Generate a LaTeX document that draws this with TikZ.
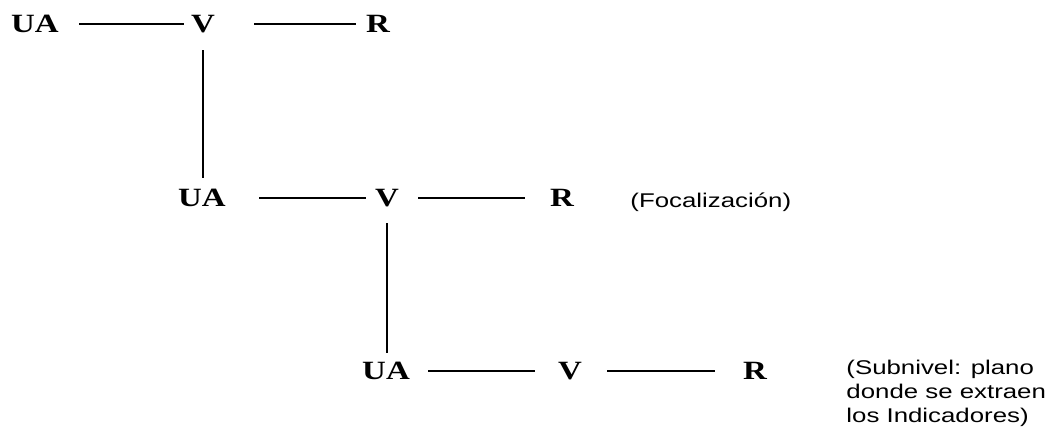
\documentclass[tikz,border=0pt]{standalone}
\usepackage{fontspec}
\setmainfont{Liberation Serif}
\newfontfamily\notefont{Liberation Sans}
\usetikzlibrary{positioning}

\begin{document}
\begin{tikzpicture}[
    lvl/.style={inner sep=0pt, font=\fontsize{15}{17}\selectfont\bfseries, xscale=1.25},
    note/.style={inner sep=0pt, font=\fontsize{11.3}{13.4}\notefont, align=left, xscale=1.3},
    link/.style={line width=1.5pt}
  ]
  \useasboundingbox (0,0) rectangle (21.02,8.54);

  % Level 1
  \node[lvl] (ua1) at (0.70, 8.06) {UA};
  \node[lvl] (v1) at (4.06, 8.06) {V};
  \node[lvl] (r1) at (7.56, 8.06) {R};
  \draw[link, shorten <=0.40cm, shorten >=0.14cm] (ua1) -- (v1);
  \draw[link, shorten <=0.78cm, shorten >=0.20cm] (v1) -- (r1);

  % Level 2
  \node[lvl] (ua2) at (4.04, 4.58) {UA};
  \node[lvl] (v2) at (7.74, 4.58) {V};
  \node[lvl] (r2) at (11.24, 4.58) {R};
  \node[note, anchor=base west] (foc) at (12.60, 4.40) {(Focalización)};
  \draw[link, shorten <=0.66cm, shorten >=0.18cm] (ua2) -- (v2);
  \draw[link, shorten <=0.38cm, shorten >=0.50cm] (v2) -- (r2);
  \draw[link, shorten <=0.34cm, shorten >=0.40cm] (v1) -- (v1 |- ua2);

  % Level 3
  \node[lvl] (ua3) at (7.72, 1.12) {UA};
  \node[lvl] (v3) at (11.40, 1.12) {V};
  \node[lvl] (r3) at (15.10, 1.12) {R};
  \node[note, anchor=base west] (sub) at (16.92, 0.10) {(Subnivel: plano\\donde se extraen\\los Indicadores)};
  \draw[link, shorten <=0.36cm, shorten >=0.46cm] (ua3) -- (v3);
  \draw[link, shorten <=0.50cm, shorten >=0.56cm] (v3) -- (r3);
  \draw[link, shorten <=0.32cm, shorten >=0.36cm] (v2) -- (v2 |- ua3);
\end{tikzpicture}
\end{document}
